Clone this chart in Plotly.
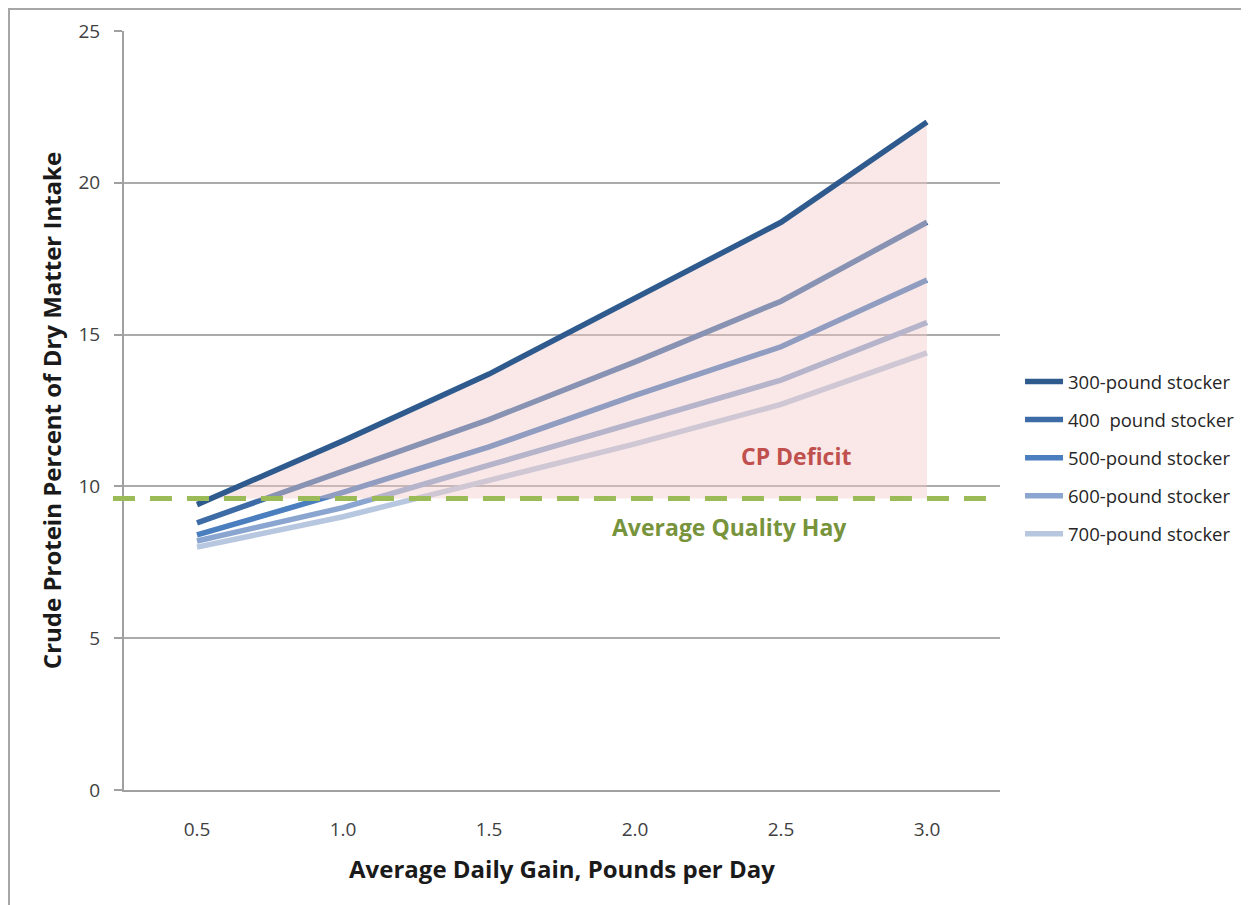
import plotly.graph_objects as go

# ---- data ----
adg = [0.5, 1.0, 1.5, 2.0, 2.5, 3.0]
adg_labels = ["0.5", "1.0", "1.5", "2.0", "2.5", "3.0"]
cp_300 = [9.4, 11.5, 13.7, 16.2, 18.7, 22.0]
cp_400 = [8.8, 10.5, 12.2, 14.1, 16.1, 18.7]
cp_500 = [8.4, 9.8, 11.3, 13.0, 14.6, 16.8]
cp_600 = [8.2, 9.3, 10.7, 12.1, 13.5, 15.4]
cp_700 = [8.0, 9.0, 10.2, 11.4, 12.7, 14.4]
series_names = ["300-pound stocker", "400  pound stocker", "500-pound stocker",
                "600-pound stocker", "700-pound stocker"]
hay_cp = 9.6
y_ticks = [0, 5, 10, 15, 20, 25]

FONT = "Open Sans"
colors = ["#2F5A8E", "#3D6BA6", "#4A7EBE", "#8AA5CF", "#B8C7E0"]

fig = go.Figure()

all_series = [cp_300, cp_400, cp_500, cp_600, cp_700]

# lighter series (400-700) first, under the deficit shading
for i in range(1, 5):
    fig.add_trace(go.Scatter(
        x=adg, y=all_series[i], mode="lines", name=series_names[i],
        line=dict(color=colors[i], width=5.5), legendrank=i + 1,
        legendgroup=f"g{i}", hoverinfo="skip"))

# CP deficit area: between hay level and the 300-pound line
x0 = adg[0] + (hay_cp - cp_300[0]) / (cp_300[1] - cp_300[0]) * (adg[1] - adg[0])
poly_x = [x0] + [x for x, y in zip(adg, cp_300) if x > x0] + [adg[-1], x0]
poly_y = [hay_cp] + [y for x, y in zip(adg, cp_300) if x > x0] + [hay_cp, hay_cp]
fig.add_trace(go.Scatter(
    x=poly_x, y=poly_y, mode="lines", fill="toself",
    fillcolor="rgba(240,200,198,0.42)", line=dict(width=0),
    showlegend=False, hoverinfo="skip"))

fig.add_trace(go.Scatter(
    x=adg, y=cp_300, mode="lines", name=series_names[0],
    line=dict(color=colors[0], width=5.5), legendrank=1,
    legendgroup="g0", hoverinfo="skip"))

# hay line
fig.add_shape(type="line", xref="paper", yref="y",
              x0=-0.0126, x1=1.0, y0=hay_cp, y1=hay_cp,
              line=dict(color="#9BBB59", width=5, dash="22px,15px"))

# chart border
fig.add_shape(type="rect", xref="paper", yref="paper",
              x0=-0.1313, x1=1.3, y0=-0.17, y1=1.0290,
              line=dict(color="#A6A6A6", width=2), layer="below")

fig.add_annotation(x=2.55, y=11.0, xref="x", yref="y", text="<b>CP Deficit</b>",
                   showarrow=False, font=dict(family=FONT, size=23, color="#C0504D"))
fig.add_annotation(x=2.325, y=8.65, xref="x", yref="y",
                   text="<b>Average Quality Hay</b>",
                   showarrow=False, font=dict(family=FONT, size=23, color="#77933C"))

fig.update_layout(
    width=1241, height=897,
    margin=dict(l=116, r=249, t=23, b=115, autoexpand=False),
    paper_bgcolor="white", plot_bgcolor="white",
    font=dict(family=FONT, size=19, color="#262626"),
    legend=dict(xref="container", yref="container", x=0.8155, y=0.4983,
                xanchor="left", yanchor="middle",
                font=dict(family=FONT, size=18.5, color="#262626"),
                tracegroupgap=11, itemwidth=38, bgcolor="rgba(0,0,0,0)"),
    showlegend=True,
)

fig.update_xaxes(
    range=[0.25, 3.25], tickvals=adg, ticktext=adg_labels,
    showgrid=False, zeroline=False, showline=True, linecolor="#A0A0A0", linewidth=2,
    ticks="", ticklabelstandoff=21,
    tickfont=dict(family=FONT, size=19, color="#404040"),
    title=dict(text="<b>Average Daily Gain, Pounds per Day</b>", standoff=20,
               font=dict(family=FONT, size=24, color="#1a1a1a")))

fig.update_yaxes(
    range=[0, 25], tickvals=y_ticks, showgrid=True, gridcolor="#ABABAB", gridwidth=1.5,
    zeroline=False, showline=True, linecolor="#A0A0A0", linewidth=2,
    ticks="outside", ticklen=8, tickcolor="#A0A0A0", tickwidth=1.5,
    ticklabelstandoff=10,
    tickfont=dict(family=FONT, size=19, color="#404040"),
    title=dict(text="<b>Crude Protein Percent of Dry Matter Intake</b>", standoff=10,
               font=dict(family=FONT, size=24, color="#1a1a1a")))

fig.write_html("out.html")
